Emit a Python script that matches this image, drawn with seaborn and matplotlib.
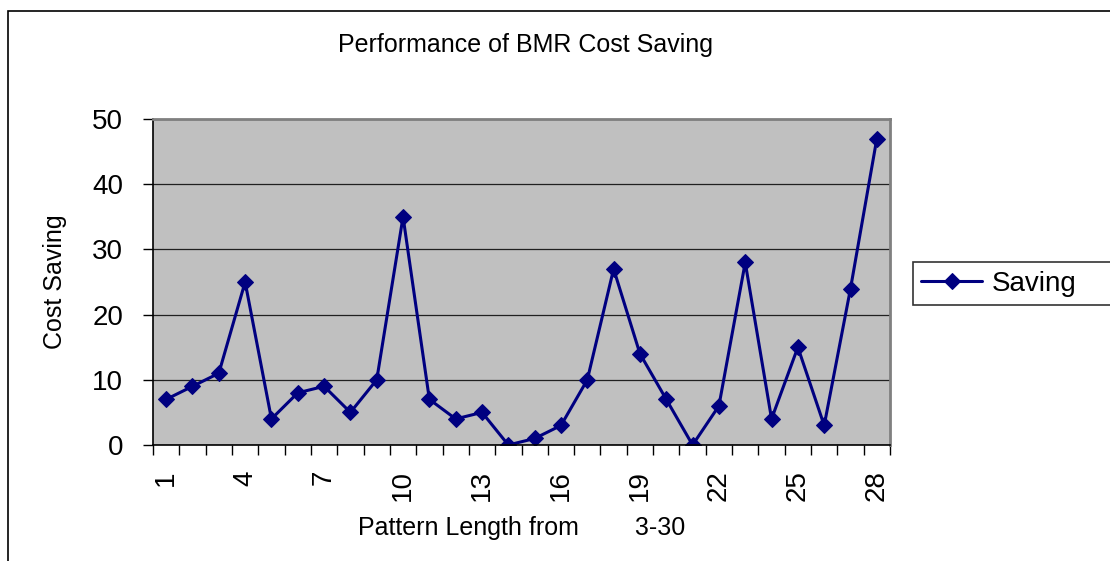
import numpy as np
import pandas as pd
import seaborn as sns
import matplotlib.pyplot as plt
from matplotlib.patches import Rectangle

# data
pattern = list(range(1, 29))
saving = [7, 9, 11, 25, 4, 8, 9, 5, 10, 35, 7, 4, 5, 0, 1, 3,
          10, 27, 14, 7, 0, 6, 28, 4, 15, 3, 24, 47]
tick_labels = [1, 4, 7, 10, 13, 16, 19, 22, 25, 28]
y_ticks = [0, 10, 20, 30, 40, 50]

df = pd.DataFrame({'pattern': pattern, 'Saving': saving})

sns.set_style('white')
plt.rcParams['font.family'] = ['Liberation Sans', 'DejaVu Sans']
plt.rcParams['text.color'] = 'black'
plt.rcParams['axes.labelcolor'] = 'black'
plt.rcParams['xtick.color'] = 'black'
plt.rcParams['ytick.color'] = 'black'

fig = plt.figure(figsize=(11.10, 5.61), dpi=100)
ax = fig.add_axes([153 / 1110, 116 / 561, 737 / 1110, 326 / 561])
ax.set_facecolor('#c0c0c0')

# outer chart border (only top and left edges visible)
fig.patches.append(Rectangle((8 / 1110, -0.1), 1.2, (561 - 11) / 561 + 0.1,
                             transform=fig.transFigure, fill=False,
                             edgecolor='black', linewidth=1.2))

sns.lineplot(data=df, x='pattern', y='Saving', ax=ax, color='#000080',
             marker='D', markersize=8.5, markeredgecolor='#000080',
             linewidth=2.2, label='Saving')

ax.set_xlim(0.5, 28.5)
ax.set_ylim(0, 50)
ax.set_yticks(y_ticks)
ax.yaxis.grid(True, color='#202020', linewidth=0.9)
ax.set_axisbelow(True)

ax.set_xticks(tick_labels)
ax.set_xticklabels([str(t) for t in tick_labels], rotation=90, fontsize=20)
ax.set_xticks(np.arange(0.5, 29, 1), minor=True)
ax.tick_params(axis='x', which='major', length=0, pad=18)
ax.tick_params(axis='x', which='minor', length=7, width=1, color='black',
               direction='out', bottom=True)
ax.tick_params(axis='y', labelsize=20, length=7.5, width=1, direction='out',
               color='black', left=True, pad=14)

for s in ['top', 'right']:
    ax.spines[s].set_color('#808080')
    ax.spines[s].set_linewidth(2)
for s in ['left', 'bottom']:
    ax.spines[s].set_color('black')
    ax.spines[s].set_linewidth(1.2)

ax.set_xlabel('Pattern Length from        3-30', fontsize=18, labelpad=11)
ax.set_ylabel('Cost Saving', fontsize=18, labelpad=18)
fig.text(525 / 1110, 1 - 45 / 561, 'Performance of BMR Cost Saving',
         ha='center', va='center', fontsize=18)

leg = ax.legend(loc='center left', bbox_to_anchor=(1.031, 0.425, 0.32, 0.14),
                mode='expand', borderaxespad=0, fontsize=20, frameon=True,
                fancybox=False, handlelength=2.2, borderpad=0.3,
                handletextpad=0.35)
leg.get_frame().set_edgecolor('black')
leg.get_frame().set_linewidth(1.2)

fig.savefig('out.png', dpi=100)
